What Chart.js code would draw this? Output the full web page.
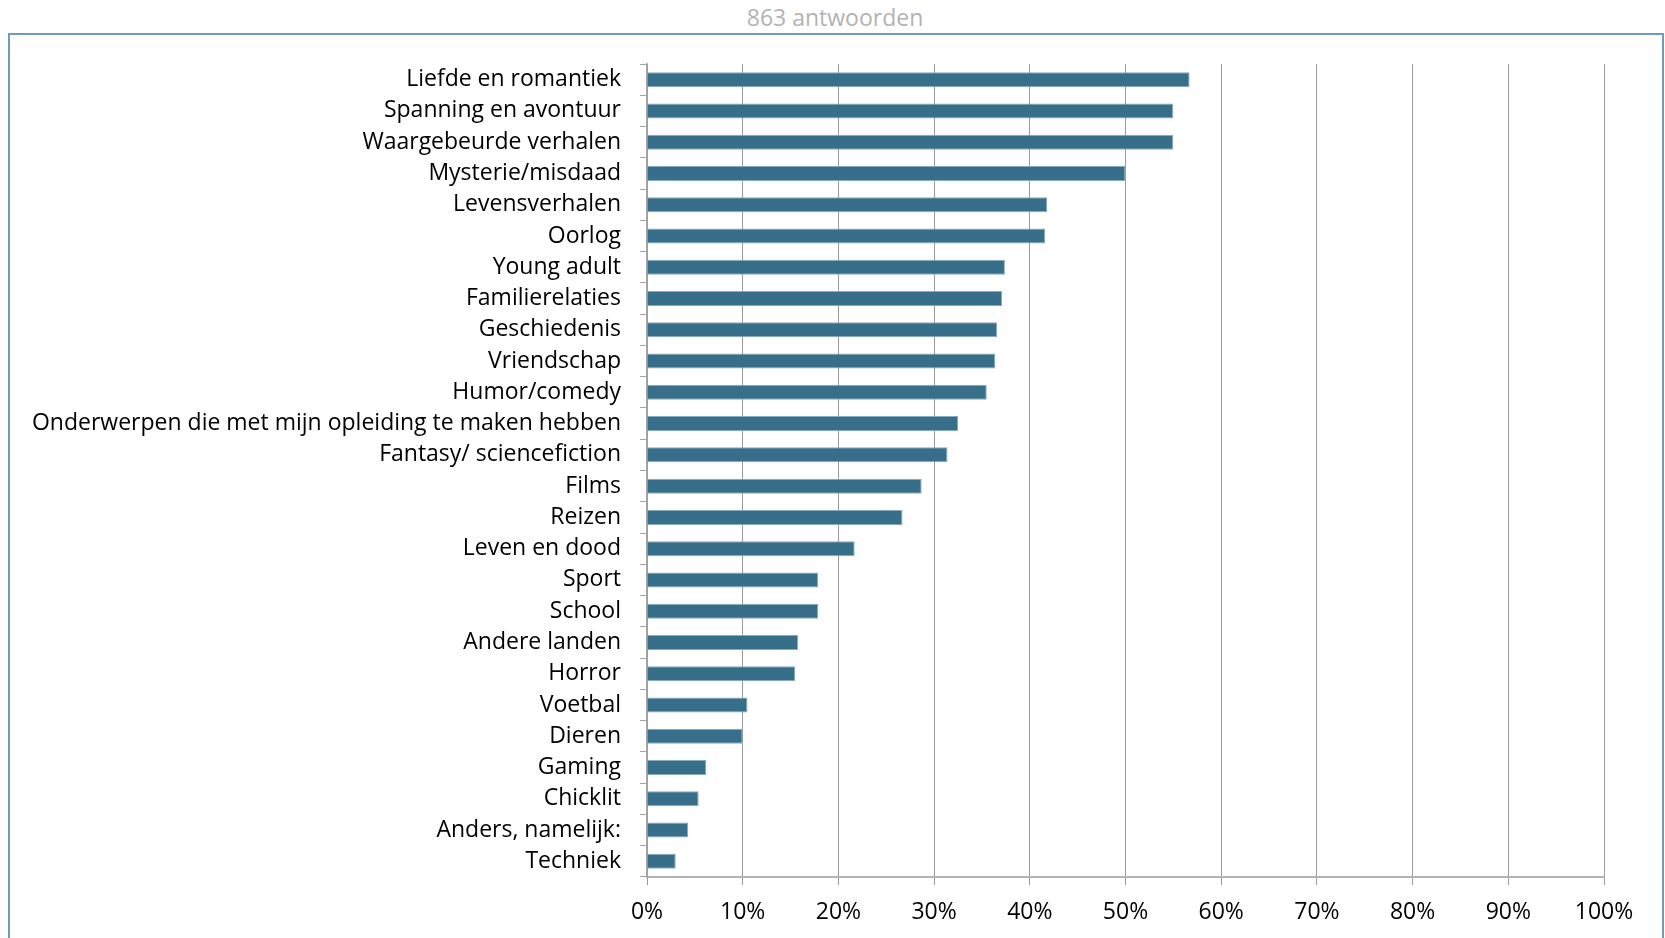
<!DOCTYPE html>
<html>
<head>
<meta charset="utf-8">
<script src="https://cdn.jsdelivr.net/npm/chart.js@4.4.1/dist/chart.umd.min.js"></script>
<style>
  html, body { margin: 0; padding: 0; background: #fff; overflow: hidden; }
  #frame {
    position: absolute; left: 8px; top: 33px; width: 1652px; height: 1000px;
    border: 2px solid #6f9bb6; border-bottom: none;
  }
  #title {
    position: absolute; left: 0; top: 4px; width: 1670px; text-align: center;
    font: 23px/27.6px 'Open Sans', sans-serif; color: #b3b3b3;
  }
  #chart { position: absolute; left: 0; top: 0; }
</style>
</head>
<body>
<div id="frame"></div>
<div id="title"></div>
<canvas id="chart" width="1665" height="938"></canvas>
<script>
const title = '863 antwoorden'

const categories = [
  'Liefde en romantiek',
  'Spanning en avontuur',
  'Waargebeurde verhalen',
  'Mysterie/misdaad',
  'Levensverhalen',
  'Oorlog',
  'Young adult',
  'Familierelaties',
  'Geschiedenis',
  'Vriendschap',
  'Humor/comedy',
  'Onderwerpen die met mijn opleiding te maken hebben',
  'Fantasy/ sciencefiction',
  'Films',
  'Reizen',
  'Leven en dood',
  'Sport',
  'School',
  'Andere landen',
  'Horror',
  'Voetbal',
  'Dieren',
  'Gaming',
  'Chicklit',
  'Anders, namelijk:',
  'Techniek',
]

// percentage of respondents
const percentages = [
  56.7, 55.0, 55.0, 50.0, 41.8, 41.6, 37.4, 37.1, 36.6, 36.4, 35.5, 32.5, 31.4,
  28.7, 26.7, 21.7, 17.9, 17.9, 15.8, 15.5, 10.5, 10.0, 6.2, 5.4, 4.3, 3.0,
]

const xMin = 0
const xMax = 100
const xStep = 10

const FONT = 'Open Sans'

document.getElementById('title').textContent = title

new Chart(document.getElementById('chart'), {
  type: 'bar',
  data: {
    labels: categories,
    datasets: [
      {
        data: percentages,
        backgroundColor: '#376f8b',
        borderColor: '#86aabf',
        borderWidth: 1,
        borderSkipped: 'start',
        barPercentage: 0.48,
        categoryPercentage: 1,
      },
    ],
  },
  options: {
    indexAxis: 'y',
    responsive: false,
    animation: false,
    devicePixelRatio: 1,
    layout: { padding: { left: 0, right: 61, top: 64, bottom: 0 } },
    plugins: {
      legend: { display: false },
      tooltip: { enabled: false },
    },
    scales: {
      x: {
        min: xMin,
        max: xMax,
        ticks: {
          stepSize: xStep,
          color: '#000',
          padding: 14,
          font: { family: FONT, size: 23 },
          callback: (v) => v + '%',
        },
        grid: { color: '#9a9a9a', lineWidth: 1, tickLength: 8 },
        border: { color: '#b3b3b3', width: 2 },
        afterFit: (s) => { s.height = 61 },
      },
      y: {
        offset: true,
        ticks: {
          color: '#000',
          padding: 19,
          font: { family: FONT, size: 23 },
        },
        grid: {
          offset: true,
          drawOnChartArea: false,
          color: '#a6a6a6',
          tickLength: 7,
        },
        border: { color: '#a6a6a6', width: 1.5 },
        afterFit: (s) => { s.width = 647 },
      },
    },
  },
})
</script>
</body>
</html>
